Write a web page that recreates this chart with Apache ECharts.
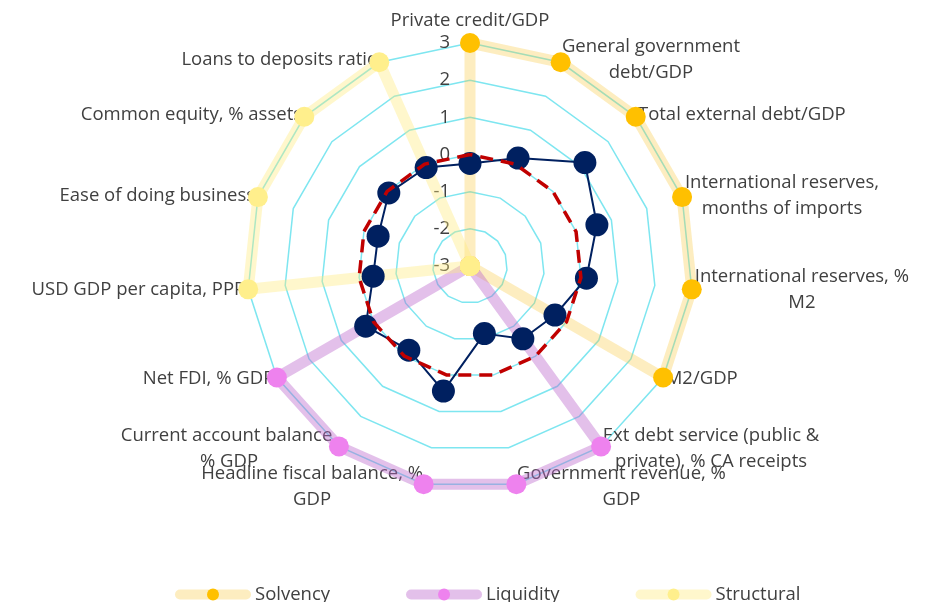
<!DOCTYPE html>
<html>
<head>
<meta charset="utf-8">
<script src="https://cdn.jsdelivr.net/npm/echarts@6/dist/echarts.min.js"></script>
<style>
html, body { margin: 0; padding: 0; background: #fff; }
#main { width: 942px; height: 602px; }
</style>
</head>
<body>
<div id="main"></div>
<script>
// indicator names, clockwise from the top
var indicators = [
  'Private credit/GDP',
  'General government\ndebt/GDP',
  'Total external debt/GDP',
  'International reserves,\nmonths of imports',
  'International reserves, %\nM2',
  'M2/GDP',
  'Ext debt service (public &\nprivate), % CA receipts',
  'Government revenue, %\nGDP',
  'Headline fiscal balance, %\nGDP',
  'Current account balance,\n% GDP',
  'Net FDI, % GDP',
  'USD GDP per capita, PPP',
  'Ease of doing business',
  'Common equity, % assets',
  'Loans to deposits ratio'
];
var ticks = [-3, -2, -1, 0, 1, 2, 3];

// group outlines
var solvency   = [3, 3, 3, 3, 3, 3, -3, -3, -3, -3, -3, -3, -3, -3, -3];
var liquidity  = [-3, -3, -3, -3, -3, -3, 3, 3, 3, 3, 3, -3, -3, -3, -3];
var structural = [-3, -3, -3, -3, -3, -3, -3, -3, -3, -3, -3, 3, 3, 3, 3];
// country scores and zero benchmark
var country   = [-0.24, 0.18, 1.16, 0.59, 0.15, -0.36, -0.58, -1.14, 0.44, -0.2, 0.24, -0.38, -0.4, -0.06, -0.1];
var benchmark = [0, 0, 0, 0, 0, 0, 0, 0, 0, 0, 0, 0, 0, 0, 0];

var groupNames = ['Solvency', 'Liquidity', 'Structural'];
var lineCols = ['rgba(250,200,60,0.32)', 'rgba(188,105,205,0.42)', 'rgba(255,235,120,0.38)'];
var dotCols = ['#FFC000', '#EE82EE', '#FFEF8C'];

var FONT = 'Open Sans';
var FS = 18.5;
var TXT = '#404040';

// echarts radar runs counter-clockwise, so flip everything after the first axis
function cw(arr) { return [arr[0]].concat(arr.slice(1).reverse()); }

var chart = echarts.init(document.getElementById('main'));

function groupSeries(i, values) {
  return {
    name: groupNames[i],
    type: 'radar',
    symbol: 'circle',
    symbolSize: 20,
    lineStyle: { color: lineCols[i], width: 11 },
    itemStyle: { color: dotCols[i] },
    data: [{ name: groupNames[i], value: cw(values) }]
  };
}

// empty line series only so the legend gets a line + dot icon
function legendSeries(i) {
  return {
    name: groupNames[i],
    type: 'line',
    symbol: 'circle',
    lineStyle: { color: lineCols[i], width: 10, cap: 'round' },
    itemStyle: { color: dotCols[i] },
    data: []
  };
}

var option = {
  backgroundColor: '#fff',
  textStyle: { fontFamily: FONT },
  grid: { left: 0, top: 0, width: 1, height: 1, show: false },
  xAxis: { show: false, type: 'value' },
  yAxis: { show: false, type: 'value' },
  legend: {
    bottom: -7,
    left: 170,
    itemWidth: 66,
    itemHeight: 15,
    itemGap: 76,
    lineStyle: { width: 'inherit', cap: 'round' },
    textStyle: { fontSize: FS, color: TXT, fontFamily: FONT, padding: [0, 0, 0, 4] },
    data: groupNames
  },
  radar: {
    center: [470, 266],
    radius: 223,
    shape: 'polygon',
    splitNumber: ticks.length - 1,
    startAngle: 90,
    axisName: {
      color: TXT,
      fontSize: FS,
      fontFamily: FONT,
      lineHeight: 26,
      formatter: function (n) {
        return n.split('\n').map(function (l) { return '{c|' + l + '}'; }).join('\n');
      },
      rich: { c: { align: 'center', fontSize: FS, fontFamily: FONT, color: TXT, lineHeight: 26 } }
    },
    nameGap: 3,
    axisLine: { show: false },
    axisTick: { show: false },
    axisLabel: { show: true, color: TXT, fontSize: FS, fontFamily: FONT, margin: 20 },
    splitLine: { lineStyle: { color: '#7EE6F0', width: 1.5 } },
    splitArea: { show: false },
    indicator: cw(indicators).map(function (n, i) {
      var ind = { name: n, min: ticks[0], max: ticks[ticks.length - 1] };
      if (i > 0) ind.axisLabel = { show: false };
      return ind;
    })
  },
  series: [
    legendSeries(0), legendSeries(1), legendSeries(2),
    groupSeries(0, solvency),
    groupSeries(1, liquidity),
    groupSeries(2, structural),
    {
      name: 'Country',
      type: 'radar',
      symbol: 'circle',
      symbolSize: 23,
      lineStyle: { color: '#002060', width: 2 },
      itemStyle: { color: '#002060' },
      z: 3,
      data: [{ name: 'Country', value: cw(country) }]
    },
    {
      name: 'Benchmark',
      type: 'radar',
      symbol: 'none',
      lineStyle: { color: '#C00000', width: 3.5, type: [13, 8] },
      z: 4,
      data: [{ name: 'Benchmark', value: cw(benchmark) }]
    }
  ]
};
chart.setOption(option);
</script>
</body>
</html>
